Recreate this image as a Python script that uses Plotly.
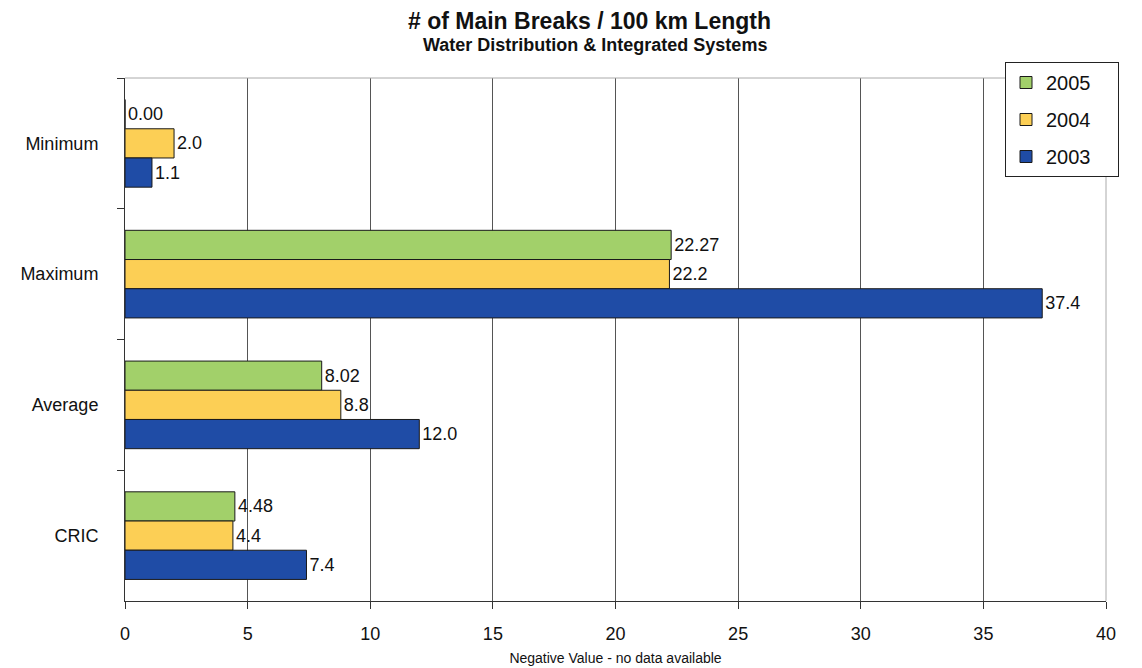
import plotly.graph_objects as go

categories = ["Minimum", "Maximum", "Average", "CRIC"]
years = ["2005", "2004", "2003"]
values_2005 = [0.00, 22.27, 8.02, 4.48]
values_2004 = [2.0, 22.2, 8.8, 4.4]
values_2003 = [1.1, 37.4, 12.0, 7.4]
x_ticks = [0, 5, 10, 15, 20, 25, 30, 35, 40]

series = [
    ("2005", values_2005, "#a2d06a", "%{x:.2f}"),
    ("2004", values_2004, "#fccf55", "%{x:.1f}"),
    ("2003", values_2003, "#1f4ca6", "%{x:.1f}"),
]

FONT = "Arial, Liberation Sans, sans-serif"
# page body has an 8px margin; compensate so the plot sits where the reference has it
OFF = 8
W, H = 1142 - OFF, 668 - OFF
PAD = "\u00a0" * 4  # widen the legend box a little

fig = go.Figure()
for name, vals, color, tmpl in series:
    fig.add_trace(go.Bar(
        name=name + PAD, y=categories, x=vals, orientation="h",
        marker=dict(color=color, line=dict(color="#1a1a1a", width=1)),
        texttemplate=tmpl, textposition="outside",
        textfont=dict(family=FONT, size=18, color="#111"),
        cliponaxis=False, legendgroup=name,
    ))

fig.update_layout(
    width=W, height=H,
    margin=dict(l=125 - OFF, r=36, t=78 - OFF, b=67, autoexpand=False),
    paper_bgcolor="white", plot_bgcolor="white",
    barmode="group", bargap=0.33, bargroupgap=0,
    font=dict(family=FONT, size=18, color="#111"),
    showlegend=True,
    legend=dict(
        xref="container", yref="container",
        x=(1005 - OFF) / W, y=1 - (62 - OFF) / H, xanchor="left", yanchor="top",
        traceorder="grouped", tracegroupgap=8,
        bordercolor="#222", borderwidth=1, bgcolor="white",
        font=dict(family=FONT, size=20, color="#111"),
        itemwidth=30,
    ),
    annotations=[
        dict(text="<b># of Main Breaks / 100 km Length</b>", xref="paper", yref="paper",
             x=0.474, y=1.0 + 57 / 523, xanchor="center", yanchor="middle", showarrow=False,
             font=dict(family=FONT, size=23, color="#111")),
        dict(text="<b>Water Distribution & Integrated Systems</b>", xref="paper", yref="paper",
             x=0.479, y=1.0 + 33 / 523, xanchor="center", yanchor="middle", showarrow=False,
             font=dict(family=FONT, size=18, color="#111")),
    ],
    shapes=[
        dict(type="line", xref="paper", yref="paper", x0=0, x1=1, y0=1, y1=1,
             line=dict(color="#aaaaaa", width=1)),
        dict(type="line", xref="paper", yref="paper", x0=1, x1=1, y0=0, y1=1,
             line=dict(color="#aaaaaa", width=1)),
    ],
)

fig.update_xaxes(
    range=[0, 40], tickvals=x_ticks, ticktext=[str(t) for t in x_ticks],
    showgrid=True, gridcolor="#555555", gridwidth=1,
    showline=True, linecolor="#333", linewidth=1,
    ticks="outside", ticklen=7, tickcolor="#333", ticklabelstandoff=9,
    tickfont=dict(family=FONT, size=18, color="#111"),
    zeroline=False, automargin=False,
    title=dict(text="Negative Value - no data available",
               font=dict(family=FONT, size=14, color="#111"), standoff=10),
)
fig.update_yaxes(
    categoryorder="array", categoryarray=categories, autorange="reversed",
    showline=True, linecolor="#333", linewidth=1,
    ticks="outside", ticklen=7, tickcolor="#333", tickson="boundaries",
    ticklabelstandoff=22, automargin=False,
    tickfont=dict(family=FONT, size=18, color="#111"),
    showgrid=False,
)

fig.write_html("out.html")
